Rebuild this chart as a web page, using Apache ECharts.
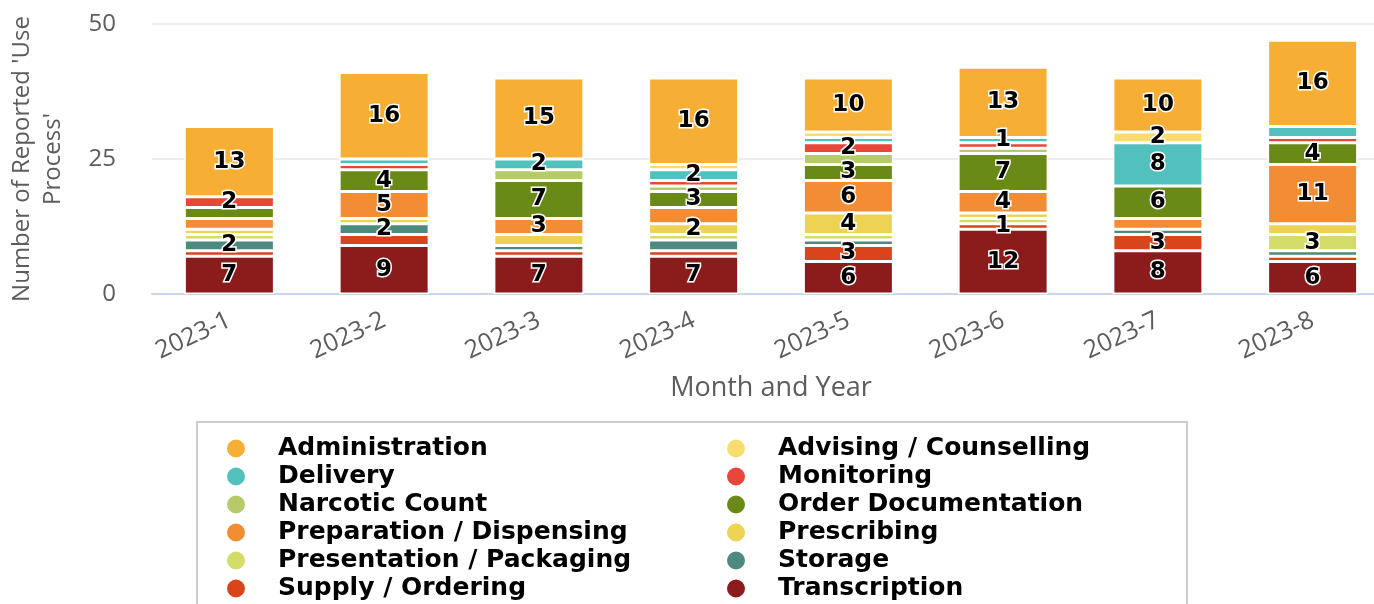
<!DOCTYPE html>
<html>
<head>
<meta charset="utf-8">
<title>Use Process</title>
<script src="https://cdn.jsdelivr.net/npm/echarts@6/dist/echarts.min.js"></script>
<style>
html,body{margin:0;padding:0;background:#fff;}
#cmChart{width:1374px;height:604px;}
</style>
</head>
<body>
<div id="cmChart"></div>
<script>
var months = ['2023-1','2023-2','2023-3','2023-4','2023-5','2023-6','2023-7','2023-8'];
var yTicks = [0,25,50];

// legend order (alphabetical); stacked so the last one sits at the bottom
var names = ['Administration','Advising / Counselling','Delivery','Monitoring','Narcotic Count','Order Documentation',
	'Preparation / Dispensing','Prescribing','Presentation / Packaging','Storage','Supply / Ordering','Transcription'];

var administration = [13,16,15,16,10,13,10,16];
var advising       = [0,0,0,1,1,0,2,0];
var delivery       = [0,1,2,2,1,1,8,2];
var monitoring     = [2,1,0,1,2,1,0,1];
var narcotic       = [0,0,2,1,2,1,0,0];
var orderDoc       = [2,4,7,3,3,7,6,4];
var preparation    = [2,5,3,3,6,4,2,11];
var prescribing    = [1,1,2,2,4,1,0,2];
var presentation   = [1,0,0,1,1,1,0,3];
var storage        = [2,2,1,2,1,0,1,1];
var supply         = [1,2,1,1,3,1,3,1];
var transcription  = [7,9,7,7,6,12,8,6];

var values = [administration,advising,delivery,monitoring,narcotic,orderDoc,
	preparation,prescribing,presentation,storage,supply,transcription];
var colors = ['#f6ae35','#f9dc6e','#52c1bd','#e8463a','#b5cb67','#6a8a17',
	'#f28c35','#eed254','#d3dc68','#4b8a7d','#d8451b','#8c1b1b'];

//隐藏重叠的数据标签：数值大的优先，相同时按图例顺序
var labelGap = 4.4;
var showLabel = [];
$each = function(arr,fn){ for(var k=0;k<arr.length;k++){ fn(k,arr[k]); } };
$each(names,function(i){ showLabel.push([]); });
$each(months,function(m){
	var segs = [];
	var base = 0;
	for(var i=names.length-1;i>=0;i--){
		var v = values[i][m];
		if(v>0){
			segs.push({s:i,v:v,c:base+v/2});
			base += v;
		}
		showLabel[i][m] = false;
	}
	segs.sort(function(a,b){ return (b.v-a.v) || (a.s-b.s); });
	var kept = [];
	$each(segs,function(k,g){
		var ok = true;
		$each(kept,function(q,h){ if(Math.abs(h.c-g.c)<labelGap){ ok = false; } });
		if(ok){
			kept.push(g);
			showLabel[g.s][m] = true;
		}
	});
});

var series = [];
$each(names,function(i,name){
	var data = [];
	$each(values[i],function(m,v){
		data.push(v>0 ? {value:v,label:{show:showLabel[i][m]}} : '-');
	});
	series.push({
		name:name,
		type:'bar',
		stack:'total',
		stackOrder:'seriesDesc',
		barWidth:90,
		data:data,
		itemStyle:{color:colors[i],borderColor:'#fff',borderWidth:1.5},
		label:{
			show:true,
			position:'inside',
			color:'#000',
			fontFamily:'DejaVu Sans',
			fontWeight:'bold',
			fontSize:23,
			textBorderColor:'#fff',
			textBorderWidth:3
		}
	});
});

var legendBase = {
	orient:'vertical',
	top:436,
	padding:0,
	icon:'circle',
	itemWidth:20,
	itemHeight:20,
	itemGap:3,
	textStyle:{fontFamily:'DejaVu Sans',fontWeight:'bold',fontSize:25,lineHeight:25,color:'#000',padding:[0,0,0,27]}
};
var leftNames = [], rightNames = [];
$each(names,function(j,n){
	if(j%2==0){ leftNames.push(n); }else{ rightNames.push(n); }
});

var myChart = echarts.init(document.getElementById('cmChart'));
var option = {
	animation:false,
	color:colors,
	grid:{left:152,right:-16,top:24,bottom:310,outerBoundsMode:'none'},
	legend:[
		Object.assign({},legendBase,{left:225,data:leftNames}),
		Object.assign({},legendBase,{left:725,data:rightNames})
	],
	graphic:[{
		type:'rect',
		shape:{x:197,y:422,width:990,height:200},
		style:{fill:'none',stroke:'#cccccc',lineWidth:2},
		silent:true
	}],
	xAxis:{
		type:'category',
		data:months,
		name:'Month and Year',
		nameLocation:'middle',
		nameGap:81,
		nameTextStyle:{fontFamily:'Open Sans',fontSize:27,color:'#5c5c5c'},
		axisLine:{lineStyle:{color:'#ccd6eb',width:2}},
		axisTick:{show:false},
		axisLabel:{rotate:25,margin:25,fontFamily:'Open Sans',fontSize:25,color:'#5c5c5c'}
	},
	yAxis:{
		type:'value',
		min:yTicks[0],
		max:yTicks[yTicks.length-1],
		interval:25,
		name:"Number of Reported 'Use\nProcess'",
		nameLocation:'middle',
		nameRotate:90,
		nameGap:83,
		nameTextStyle:{fontFamily:'Open Sans',fontSize:24,color:'#5c5c5c',lineHeight:31},
		axisLabel:{margin:36,fontFamily:'Open Sans',fontSize:24,color:'#5c5c5c'},
		splitLine:{lineStyle:{color:'#e6e6e6',width:1.5}}
	},
	series:series
};
myChart.setOption(option);
</script>
</body>
</html>
